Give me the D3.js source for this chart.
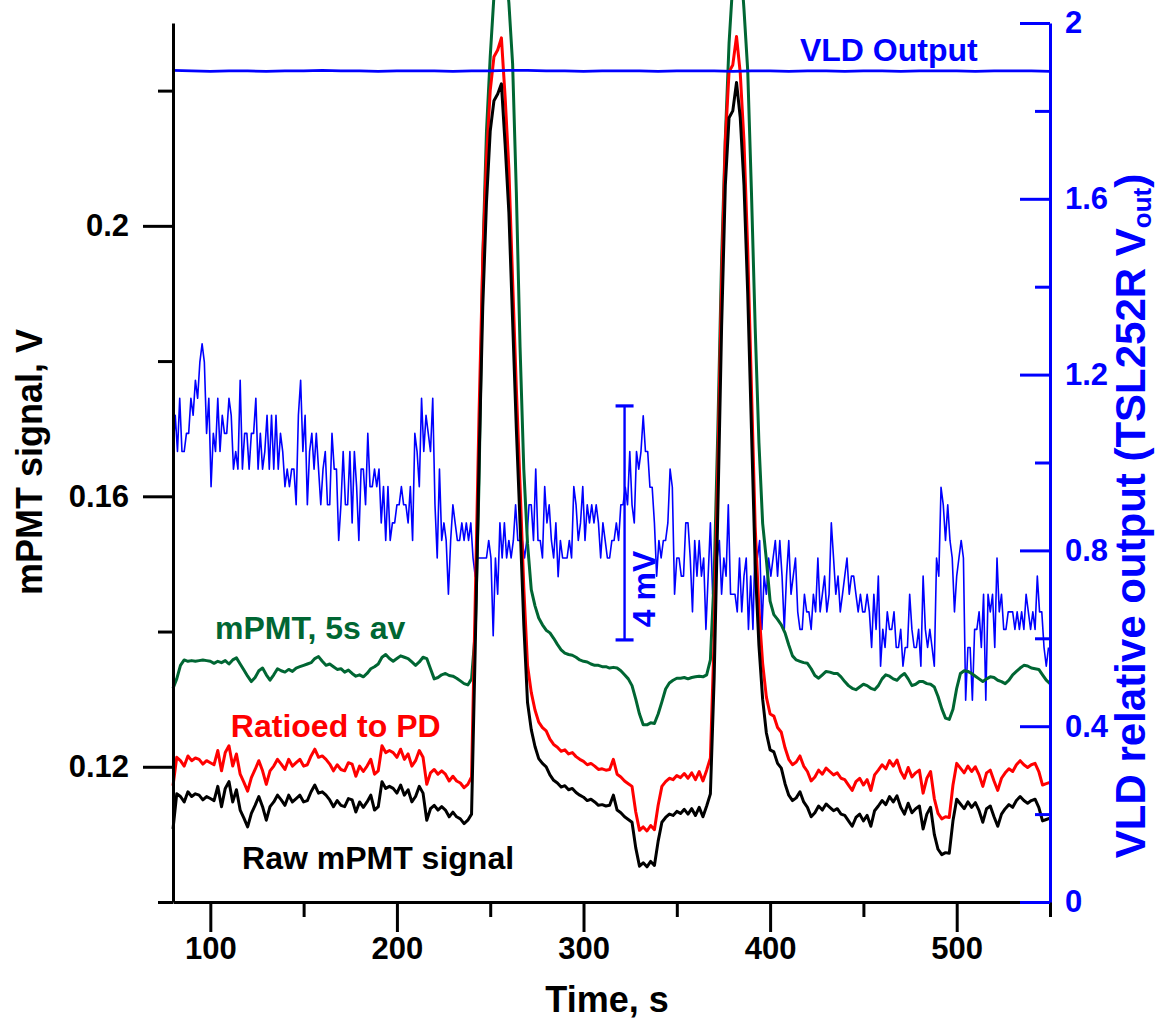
<!DOCTYPE html>
<html>
<head>
<meta charset="utf-8">
<style>
  body { margin: 0; background: #fff; }
  #chart text { font-family: "Liberation Sans", Arial, sans-serif; font-weight: bold; }
</style>
<script src="https://cdn.jsdelivr.net/npm/d3@7"></script>
</head>
<body>
<div id="chart"></div>
<script>
// Sampling of the traces (time in s)
const SAMPLE_START = 80;
const SAMPLE_STEP = 2;    // mPMT traces
const DETAIL_STEP = 1.2;  // zoomed VLD trace
const VLD_STEP = 10;      // VLD output

// Raw mPMT signal, V
const rawSignal = [
  0.1108, 0.1160, 0.1156, 0.1148, 0.1163, 0.1156, 0.1160, 0.1158, 0.1151, 0.1156,
  0.1153, 0.1150, 0.1171, 0.1141, 0.1168, 0.1178, 0.1148, 0.1166, 0.1136, 0.1124,
  0.1111, 0.1131, 0.1143, 0.1156, 0.1141, 0.1121, 0.1141, 0.1148, 0.1158, 0.1151,
  0.1143, 0.1158, 0.1148, 0.1153, 0.1158, 0.1148, 0.1150, 0.1163, 0.1173, 0.1161,
  0.1163, 0.1158, 0.1151, 0.1141, 0.1150, 0.1143, 0.1141, 0.1153, 0.1151, 0.1133,
  0.1148, 0.1140, 0.1148, 0.1158, 0.1136, 0.1141, 0.1178, 0.1168, 0.1171, 0.1168,
  0.1161, 0.1173, 0.1158, 0.1166, 0.1148, 0.1156, 0.1171, 0.1161, 0.1121, 0.1138,
  0.1143, 0.1136, 0.1141, 0.1136, 0.1126, 0.1133, 0.1126, 0.1123, 0.1116, 0.1121,
  0.1130, 0.1380, 0.1650, 0.1880, 0.2035, 0.2140, 0.2185, 0.2195, 0.2210, 0.2120,
  0.2020, 0.1860, 0.1700, 0.1560, 0.1410, 0.1295, 0.1255, 0.1230, 0.1212, 0.1205,
  0.1200, 0.1188, 0.1180, 0.1176, 0.1170, 0.1172, 0.1166, 0.1168, 0.1162, 0.1158,
  0.1155, 0.1150, 0.1152, 0.1148, 0.1143, 0.1144, 0.1142, 0.1143, 0.1158, 0.1136,
  0.1132, 0.1126, 0.1122, 0.1118, 0.1080, 0.1053, 0.1058, 0.1052, 0.1060, 0.1054,
  0.1090, 0.1118, 0.1125, 0.1130, 0.1128, 0.1134, 0.1131, 0.1137, 0.1130, 0.1138,
  0.1128, 0.1140, 0.1126, 0.1142, 0.1160, 0.1330, 0.1580, 0.1850, 0.2060, 0.2160,
  0.2170, 0.2212, 0.2160, 0.2060, 0.1900, 0.1700, 0.1500, 0.1380, 0.1300, 0.1250,
  0.1225, 0.1222, 0.1205, 0.1198, 0.1175, 0.1158, 0.1150, 0.1154, 0.1163, 0.1148,
  0.1140, 0.1126, 0.1132, 0.1142, 0.1136, 0.1145, 0.1140, 0.1135, 0.1138, 0.1130,
  0.1128, 0.1120, 0.1112, 0.1125, 0.1130, 0.1120, 0.1128, 0.1112, 0.1135, 0.1142,
  0.1150, 0.1144, 0.1156, 0.1148, 0.1157, 0.1140, 0.1130, 0.1146, 0.1132, 0.1138,
  0.1142, 0.1108, 0.1130, 0.1140, 0.1100, 0.1078, 0.1070, 0.1073, 0.1072, 0.1120,
  0.1152, 0.1145, 0.1138, 0.1148, 0.1140, 0.1147, 0.1135, 0.1118, 0.1138, 0.1142,
  0.1126, 0.1112, 0.1130, 0.1138, 0.1144, 0.1140, 0.1150, 0.1156, 0.1150, 0.1146,
  0.1150, 0.1152, 0.1140, 0.1120, 0.1122, 0.1124
];

// Ratioed to PD, V
const ratioedSignal = [
  0.1172, 0.1214, 0.1209, 0.1201, 0.1216, 0.1209, 0.1213, 0.1211, 0.1204, 0.1209,
  0.1206, 0.1203, 0.1224, 0.1194, 0.1221, 0.1231, 0.1201, 0.1219, 0.1189, 0.1177,
  0.1164, 0.1184, 0.1196, 0.1209, 0.1194, 0.1174, 0.1194, 0.1201, 0.1211, 0.1204,
  0.1196, 0.1211, 0.1201, 0.1206, 0.1211, 0.1201, 0.1203, 0.1216, 0.1226, 0.1214,
  0.1216, 0.1211, 0.1204, 0.1194, 0.1203, 0.1196, 0.1194, 0.1206, 0.1204, 0.1186,
  0.1201, 0.1193, 0.1201, 0.1211, 0.1189, 0.1194, 0.1231, 0.1221, 0.1224, 0.1221,
  0.1214, 0.1226, 0.1211, 0.1219, 0.1201, 0.1209, 0.1224, 0.1214, 0.1174, 0.1191,
  0.1196, 0.1189, 0.1194, 0.1189, 0.1179, 0.1186, 0.1179, 0.1176, 0.1169, 0.1174,
  0.1185, 0.1450, 0.1720, 0.1950, 0.2100, 0.2200, 0.2250, 0.2260, 0.2278, 0.2190,
  0.2085, 0.1920, 0.1760, 0.1615, 0.1465, 0.1350, 0.1310, 0.1284, 0.1266, 0.1258,
  0.1253, 0.1241, 0.1233, 0.1229, 0.1223, 0.1225, 0.1219, 0.1221, 0.1215, 0.1211,
  0.1208, 0.1203, 0.1205, 0.1201, 0.1196, 0.1197, 0.1195, 0.1196, 0.1211, 0.1189,
  0.1185, 0.1179, 0.1175, 0.1171, 0.1133, 0.1106, 0.1111, 0.1105, 0.1113, 0.1107,
  0.1143, 0.1171, 0.1178, 0.1183, 0.1181, 0.1187, 0.1184, 0.1190, 0.1183, 0.1191,
  0.1181, 0.1193, 0.1179, 0.1195, 0.1213, 0.1390, 0.1645, 0.1915, 0.2125, 0.2228,
  0.2238, 0.2280, 0.2226, 0.2125, 0.1965, 0.1760, 0.1555, 0.1433, 0.1353, 0.1303,
  0.1278, 0.1275, 0.1258, 0.1251, 0.1228, 0.1211, 0.1203, 0.1207, 0.1216, 0.1201,
  0.1193, 0.1179, 0.1185, 0.1195, 0.1189, 0.1198, 0.1193, 0.1188, 0.1191, 0.1183,
  0.1181, 0.1173, 0.1165, 0.1178, 0.1183, 0.1173, 0.1181, 0.1165, 0.1188, 0.1195,
  0.1203, 0.1197, 0.1209, 0.1201, 0.1210, 0.1193, 0.1183, 0.1199, 0.1185, 0.1191,
  0.1195, 0.1161, 0.1183, 0.1193, 0.1153, 0.1131, 0.1123, 0.1126, 0.1125, 0.1173,
  0.1205, 0.1198, 0.1191, 0.1201, 0.1193, 0.1200, 0.1188, 0.1171, 0.1191, 0.1195,
  0.1179, 0.1165, 0.1183, 0.1191, 0.1197, 0.1193, 0.1203, 0.1209, 0.1203, 0.1199,
  0.1203, 0.1205, 0.1193, 0.1173, 0.1175, 0.1177
];

// mPMT, 5 s average, V
const averagedSignal = [
  0.1316, 0.1330, 0.1350, 0.1358, 0.1356, 0.1357, 0.1356, 0.1357, 0.1358, 0.1357,
  0.1356, 0.1353, 0.1356, 0.1354, 0.1357, 0.1352, 0.1358, 0.1361, 0.1352, 0.1343,
  0.1334, 0.1326, 0.1332, 0.1342, 0.1346, 0.1336, 0.1328, 0.1336, 0.1345, 0.1342,
  0.1340, 0.1344, 0.1341, 0.1346, 0.1348, 0.1350, 0.1352, 0.1354, 0.1360, 0.1363,
  0.1356, 0.1350, 0.1352, 0.1348, 0.1344, 0.1345, 0.1340, 0.1343, 0.1338, 0.1334,
  0.1336, 0.1333, 0.1338, 0.1345, 0.1348, 0.1352, 0.1362, 0.1366, 0.1360, 0.1356,
  0.1360, 0.1364, 0.1362, 0.1360, 0.1355, 0.1350, 0.1355, 0.1362, 0.1360, 0.1345,
  0.1330, 0.1332, 0.1336, 0.1338, 0.1335, 0.1334, 0.1331, 0.1327, 0.1323, 0.1321,
  0.1330, 0.1400, 0.1620, 0.1950, 0.2140, 0.2250, 0.2340, 0.2400, 0.2420, 0.2390,
  0.2330, 0.2240, 0.2050, 0.1820, 0.1640, 0.1530, 0.1462, 0.1438, 0.1420, 0.1410,
  0.1402, 0.1398, 0.1390, 0.1381, 0.1373, 0.1368, 0.1366, 0.1365, 0.1362, 0.1358,
  0.1356, 0.1355, 0.1352, 0.1350, 0.1350, 0.1348, 0.1348, 0.1346, 0.1347, 0.1346,
  0.1342, 0.1336, 0.1330, 0.1320, 0.1300, 0.1278, 0.1262, 0.1262, 0.1265, 0.1264,
  0.1278, 0.1296, 0.1315, 0.1324, 0.1328, 0.1331, 0.1331, 0.1332, 0.1330, 0.1332,
  0.1333, 0.1334, 0.1333, 0.1336, 0.1358, 0.1480, 0.1700, 0.1950, 0.2130, 0.2270,
  0.2360, 0.2410, 0.2400, 0.2320, 0.2230, 0.2050, 0.1850, 0.1680, 0.1560, 0.1506,
  0.1445, 0.1425, 0.1418, 0.1410, 0.1398, 0.1380, 0.1364, 0.1358, 0.1356, 0.1354,
  0.1353, 0.1345, 0.1335, 0.1331, 0.1336, 0.1341, 0.1340, 0.1338, 0.1338, 0.1333,
  0.1326, 0.1320, 0.1316, 0.1314, 0.1318, 0.1322, 0.1320, 0.1316, 0.1314, 0.1320,
  0.1330, 0.1336, 0.1334, 0.1330, 0.1328, 0.1334, 0.1338, 0.1330, 0.1320, 0.1322,
  0.1326, 0.1326, 0.1323, 0.1322, 0.1318, 0.1304, 0.1286, 0.1272, 0.1270, 0.1285,
  0.1316, 0.1338, 0.1342, 0.1341, 0.1338, 0.1334, 0.1330, 0.1326, 0.1330, 0.1333,
  0.1332, 0.1328, 0.1326, 0.1323, 0.1328, 0.1336, 0.1341, 0.1346, 0.1350, 0.1349,
  0.1346, 0.1345, 0.1344, 0.1336, 0.1328, 0.1323
];

// VLD output, TSL252R Vout (V), every 10 s
const vldOutput = [
  1.892, 1.891, 1.890, 1.891, 1.891, 1.890, 1.891, 1.891, 1.892, 1.891,
  1.891, 1.890, 1.891, 1.891, 1.891, 1.890, 1.891, 1.891, 1.892, 1.892,
  1.891, 1.891, 1.890, 1.891, 1.891, 1.891, 1.890, 1.891, 1.891, 1.891,
  1.890, 1.891, 1.891, 1.890, 1.891, 1.891, 1.890, 1.891, 1.891, 1.890,
  1.891, 1.891, 1.891, 1.890, 1.891, 1.891, 1.891, 1.890
];

// VLD output magnified (mV, arbitrary offset), every 1.2 s
const vldDetailMv = [
  7.70, 8.32, 7.70, 8.61, 7.70, 7.70, 8.01, 8.01, 8.61, 8.32,
  8.92, 8.61, 9.23, 9.54, 9.23, 8.01, 8.61, 7.10, 8.01, 7.70,
  8.61, 7.70, 8.32, 8.01, 8.01, 8.61, 8.32, 7.40, 7.70, 7.40,
  8.92, 7.40, 8.01, 8.01, 7.40, 8.01, 8.01, 8.61, 7.40, 8.01,
  7.40, 7.70, 8.32, 7.40, 8.32, 7.40, 8.32, 7.40, 8.01, 7.70,
  7.10, 7.40, 7.10, 7.40, 7.40, 6.79, 8.32, 8.92, 7.70, 8.32,
  6.79, 7.70, 8.01, 7.40, 8.01, 7.40, 6.79, 7.40, 7.70, 6.79,
  6.79, 8.01, 7.40, 7.40, 6.18, 6.79, 7.70, 6.79, 6.79, 7.70,
  6.48, 7.70, 7.10, 6.18, 7.40, 7.40, 6.79, 8.01, 7.10, 7.10,
  7.40, 7.10, 7.40, 6.48, 7.10, 6.18, 7.10, 6.18, 6.48, 6.48,
  6.79, 6.79, 7.10, 6.79, 6.79, 6.48, 7.10, 6.18, 8.01, 7.70,
  7.10, 8.61, 7.70, 8.32, 8.01, 7.70, 8.61, 6.79, 5.88, 7.40,
  6.18, 6.48, 6.18, 5.26, 6.18, 6.79, 6.48, 6.18, 6.18, 6.48,
  6.18, 6.48, 6.18, 6.48, 5.88, 5.56, 5.88, 5.88, 5.88, 5.88,
  5.88, 6.18, 5.88, 4.55, 5.88, 5.26, 6.48, 5.88, 6.48, 5.88,
  6.18, 5.88, 6.18, 6.79, 6.18, 6.18, 6.18, 5.88, 6.18, 6.79,
  6.79, 6.18, 7.40, 6.18, 6.18, 5.88, 7.10, 6.48, 6.79, 6.18,
  5.88, 6.48, 5.56, 6.18, 5.88, 5.88, 5.88, 6.18, 5.88, 7.10,
  6.79, 6.18, 6.48, 7.10, 6.18, 6.79, 6.48, 6.79, 6.48, 6.79,
  6.48, 5.88, 6.48, 6.18, 5.88, 5.88, 6.18, 6.18, 6.48, 6.18,
  6.79, 6.79, 7.09, 6.79, 7.70, 6.79, 6.48, 7.70, 7.40, 7.70,
  8.31, 7.70, 7.70, 7.09, 7.09, 6.48, 5.57, 6.18, 5.88, 6.18,
  6.18, 6.48, 7.40, 7.09, 5.26, 5.88, 5.88, 5.57, 5.57, 6.48,
  6.48, 5.88, 4.96, 6.18, 5.57, 6.18, 5.57, 5.88, 4.66, 5.57,
  6.48, 5.26, 5.26, 5.88, 6.18, 5.26, 5.88, 5.57, 6.79, 5.26,
  5.26, 5.26, 4.96, 5.88, 4.96, 5.57, 5.88, 4.66, 5.57, 4.66,
  6.18, 5.88, 6.18, 4.66, 5.57, 5.26, 5.88, 5.57, 5.88, 6.18,
  5.57, 6.18, 5.57, 4.66, 5.57, 6.18, 5.26, 5.57, 5.88, 4.96,
  4.66, 4.66, 5.26, 4.96, 4.96, 4.66, 5.26, 4.96, 5.88, 4.96,
  5.26, 5.57, 4.96, 5.26, 6.48, 5.88, 5.26, 5.57, 4.96, 5.26,
  5.57, 5.88, 5.26, 5.57, 5.57, 5.26, 4.96, 5.26, 4.96, 4.96,
  5.26, 4.96, 4.35, 5.26, 4.66, 5.57, 4.03, 4.66, 4.35, 4.96,
  4.66, 4.66, 4.96, 4.35, 4.35, 4.66, 4.03, 4.35, 4.35, 5.26,
  4.66, 4.35, 4.35, 4.66, 4.03, 5.57, 4.66, 4.35, 4.66, 4.35,
  4.03, 5.88, 5.57, 7.09, 6.79, 6.18, 6.79, 6.18, 5.88, 4.96,
  5.57, 5.88, 6.18, 5.88, 3.45, 4.35, 4.35, 3.45, 4.66, 4.66,
  4.96, 4.35, 5.26, 3.45, 5.26, 4.96, 5.26, 4.35, 5.88, 4.96,
  5.26, 4.66, 4.66, 4.96, 4.96, 4.96, 4.66, 4.96, 4.66, 4.96,
  4.66, 5.26, 4.96, 4.66, 4.96, 4.66, 5.57, 4.96, 4.96, 4.35,
  4.03, 4.35
];

const timeTicks = [100, 200, 300, 400, 500];
const timeMinorTicks = [150, 250, 350, 450, 550];
const signalTicks = [0.12, 0.16, 0.2];
const signalMinorTicks = [0.1, 0.14, 0.18, 0.22];
const vldTicks = [0, 0.4, 0.8, 1.2, 1.6, 2];
const vldMinorTicks = [0.2, 0.6, 1.0, 1.4, 1.8];

// 4 mV scale bar for the magnified trace
const scaleBar = { time: 322, fromMv: 4.48, toMv: 8.48, label: "4 mV" };

const COLORS = { raw: "#000000", ratioed: "#ff0000", averaged: "#006633", vld: "#0000ff" };

// Trace labels, placed in data units
const traceLabels = [
  { text: "VLD Output", time: 416, value: 1.9135, axis: "vld", color: COLORS.vld },
  { text: "mPMT, 5s av", time: 102.5, value: 0.1389, axis: "signal", color: COLORS.averaged },
  { text: "Ratioed to PD", time: 111, value: 0.1244, axis: "signal", color: COLORS.ratioed },
  { text: "Raw mPMT signal", time: 117, value: 0.1049, axis: "signal", color: COLORS.raw }
];

class SignalChart {
  constructor(container) {
    this.container = container;
    this.width = 1161;
    this.height = 1022;
    this.plot = { left: 173, right: 1050, top: 23, bottom: 902 };
  }

  render() {
    this.createSvg();
    this.createScales();
    this.drawTraces();
    this.drawAxes();
    this.drawLabels();
  }

  createSvg() {
    this.svg = d3
      .select(this.container)
      .append("svg")
      .attr("width", this.width)
      .attr("height", this.height)
      .attr("viewBox", `0 0 ${this.width} ${this.height}`);
  }

  createScales() {
    const p = this.plot;
    this.x = d3.scaleLinear().domain([80, 550]).range([p.left, p.right]);
    this.ySignal = d3.scaleLinear().domain([0.1, 0.23]).range([p.bottom, p.top]);
    this.yVld = d3.scaleLinear().domain([0, 2]).range([p.bottom, p.top]);
    // magnified trace: 58.5 px per mV
    this.yDetail = d3.scaleLinear().domain([0, 15]).range([p.bottom, p.bottom - 15 * 58.5]);
  }

  sampledLine(step, yScale) {
    return d3
      .line()
      .x((d, i) => this.x(SAMPLE_START + i * step))
      .y((d) => yScale(d));
  }

  drawTraces() {
    const g = this.svg.append("g").attr("fill", "none").attr("stroke-linejoin", "round");

    g.append("path")
      .attr("d", this.sampledLine(DETAIL_STEP, this.yDetail)(vldDetailMv))
      .attr("stroke", COLORS.vld)
      .attr("stroke-width", 1.6);

    // scale bar
    const bx = this.x(scaleBar.time);
    const bar = g.append("g").attr("stroke", COLORS.vld).attr("stroke-width", 2.4);
    bar.append("line")
      .attr("x1", bx).attr("x2", bx)
      .attr("y1", this.yDetail(scaleBar.fromMv)).attr("y2", this.yDetail(scaleBar.toMv));
    [scaleBar.fromMv, scaleBar.toMv].forEach((v) => {
      bar.append("line")
        .attr("x1", bx - 9).attr("x2", bx + 9)
        .attr("y1", this.yDetail(v)).attr("y2", this.yDetail(v))
        .attr("stroke-width", 3.2);
    });
    g.append("text")
      .attr("transform", `translate(${bx + 30},${this.yDetail((scaleBar.fromMv + scaleBar.toMv) / 2) + 66}) rotate(-90)`)
      .attr("text-anchor", "middle")
      .attr("fill", COLORS.vld)
      .attr("stroke", "none")
      .attr("font-size", 32)
      .text(scaleBar.label);

    const traces = [
      { values: averagedSignal, color: COLORS.averaged },
      { values: ratioedSignal, color: COLORS.ratioed },
      { values: rawSignal, color: COLORS.raw }
    ];
    traces.forEach((t) => {
      g.append("path")
        .attr("d", this.sampledLine(SAMPLE_STEP, this.ySignal)(t.values))
        .attr("stroke", t.color)
        .attr("stroke-width", 3);
    });

    g.append("path")
      .attr("d", this.sampledLine(VLD_STEP, this.yVld)(vldOutput))
      .attr("stroke", COLORS.vld)
      .attr("stroke-width", 2.8);
  }

  styleAxis(sel, color, fontSize) {
    sel.attr("color", color).attr("font-size", fontSize).attr("font-family", null);
    sel.selectAll("path, line").attr("stroke-width", 3);
  }

  drawAxes() {
    const p = this.plot;
    const fmt = d3.format("~g");

    const bottom = this.svg.append("g").attr("transform", `translate(0,${p.bottom})`);
    bottom.call(d3.axisBottom(this.x).tickValues(timeTicks).tickSize(30).tickSizeOuter(0).tickPadding(5).tickFormat(fmt));
    bottom.append("g").call(d3.axisBottom(this.x).tickValues(timeMinorTicks).tickSize(15).tickFormat(""))
      .select(".domain").remove();
    this.styleAxis(bottom, "#000", 31);

    const left = this.svg.append("g").attr("transform", `translate(${p.left},0)`);
    left.call(d3.axisLeft(this.ySignal).tickValues(signalTicks).tickSize(30).tickSizeOuter(0).tickPadding(14).tickFormat(fmt));
    left.append("g").call(d3.axisLeft(this.ySignal).tickValues(signalMinorTicks).tickSize(15).tickFormat(""))
      .select(".domain").remove();
    this.styleAxis(left, "#000", 31);

    const right = this.svg.append("g").attr("transform", `translate(${p.right},0)`);
    right.call(d3.axisRight(this.yVld).tickValues(vldTicks).tickSizeInner(-30).tickSizeOuter(0).tickPadding(15).tickFormat(fmt));
    right.append("g").call(d3.axisRight(this.yVld).tickValues(vldMinorTicks).tickSizeInner(-15).tickSizeOuter(0).tickFormat(""))
      .select(".domain").remove();
    this.styleAxis(right, COLORS.vld, 31);

    // axis titles
    this.svg.append("text")
      .attr("x", 607).attr("y", 1012)
      .attr("text-anchor", "middle")
      .attr("font-size", 36)
      .text("Time, s");

    this.svg.append("text")
      .attr("transform", "translate(42,462) rotate(-90)")
      .attr("text-anchor", "middle")
      .attr("font-size", 36)
      .text("mPMT signal, V");

    const rt = this.svg.append("text")
      .attr("transform", "translate(1145,516) rotate(-90)")
      .attr("text-anchor", "middle")
      .attr("fill", COLORS.vld)
      .attr("font-size", 42);
    rt.append("tspan").text("VLD relative output (TSL252R V");
    rt.append("tspan").attr("font-size", 26).attr("dy", 6).text("out");
    rt.append("tspan").attr("dy", -6).text(")");
  }

  drawLabels() {
    this.svg.append("g")
      .selectAll("text")
      .data(traceLabels)
      .join("text")
      .attr("x", (d) => this.x(d.time))
      .attr("y", (d) => (d.axis === "vld" ? this.yVld(d.value) : this.ySignal(d.value)))
      .attr("fill", (d) => d.color)
      .attr("font-size", 32)
      .text((d) => d.text);
  }
}

new SignalChart(document.getElementById("chart")).render();
</script>
</body>
</html>
